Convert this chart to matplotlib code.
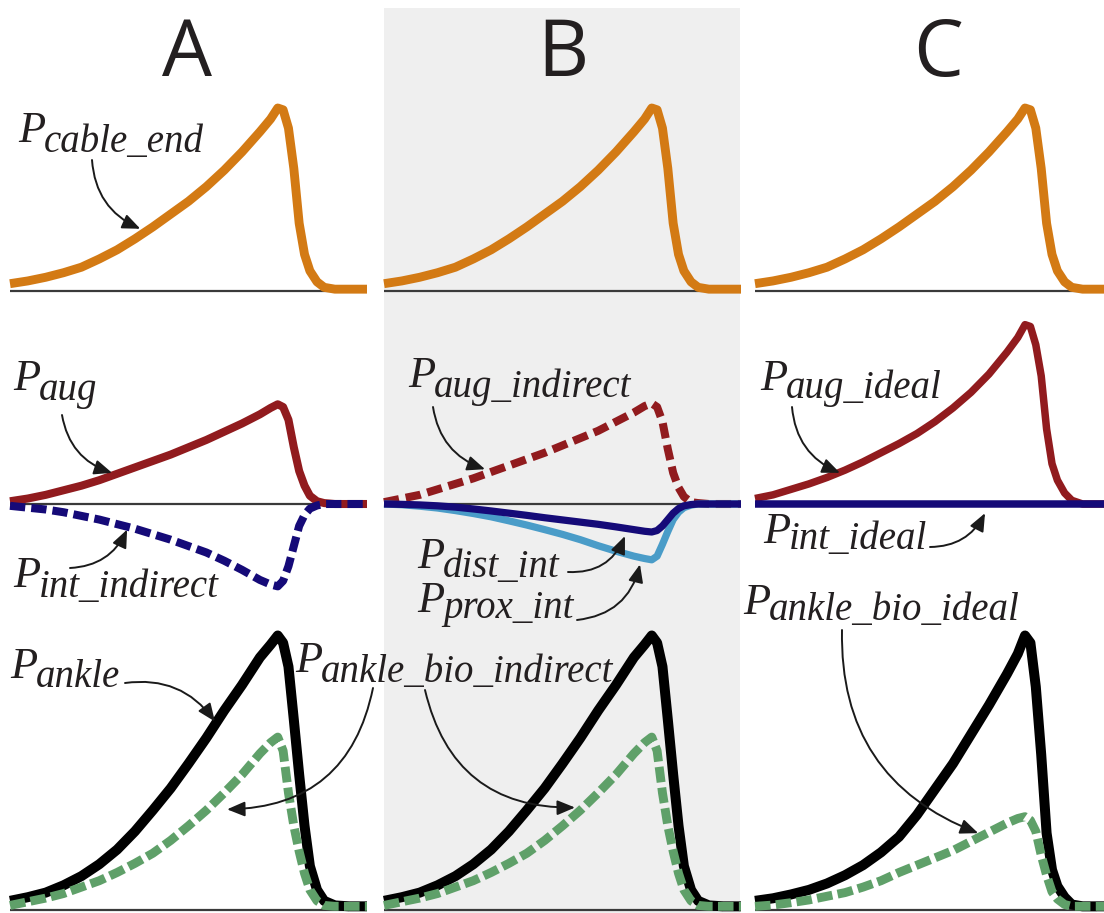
import matplotlib
matplotlib.use("Agg")
import matplotlib.pyplot as plt
from matplotlib.patches import Rectangle

# ---------------- data (time in % of push-off window, power in normalized units) -------------
t = [0, 5, 10, 15, 20, 25, 30, 35, 40, 45, 50, 55, 60, 65, 70, 73, 75, 76.5, 78, 79.5,
     81, 82.5, 84, 86, 88, 91, 95, 100]

cable_end = [0.04, 0.055, 0.075, 0.10, 0.13, 0.175, 0.225, 0.285, 0.35, 0.42, 0.49, 0.57, 0.66,
             0.76, 0.87, 0.94, 1.0, 0.99, 0.89, 0.67, 0.37, 0.20, 0.11, 0.05, 0.02, 0.01, 0.01, 0.01]

aug = [0.015, 0.03, 0.05, 0.075, 0.10, 0.13, 0.165, 0.20, 0.235, 0.27, 0.31, 0.35, 0.395,
       0.44, 0.49, 0.525, 0.545, 0.53, 0.46, 0.31, 0.18, 0.10, 0.045, 0.015, 0.005, 0, 0, 0]
int_indirect = [-0.01, -0.02, -0.03, -0.045, -0.065, -0.085, -0.11, -0.135, -0.165, -0.195,
                -0.23, -0.265, -0.31, -0.36, -0.415, -0.44, -0.45, -0.42, -0.34, -0.23,
                -0.12, -0.06, -0.025, -0.008, 0, 0, 0, 0]

aug_indirect = [0.01, 0.03, 0.05, 0.08, 0.11, 0.14, 0.175, 0.21, 0.245, 0.28, 0.32, 0.36, 0.40,
                0.45, 0.50, 0.535, 0.55, 0.53, 0.45, 0.30, 0.17, 0.09, 0.04, 0.01, 0.005, 0, 0, 0]
dist_int = [0, -0.002, -0.005, -0.01, -0.017, -0.027, -0.038, -0.05, -0.062, -0.075, -0.087,
            -0.099, -0.111, -0.125, -0.14, -0.149, -0.153, -0.145, -0.12, -0.085, -0.05,
            -0.025, -0.01, -0.003, 0, 0, 0, 0]
prox_int = [0, -0.004, -0.012, -0.022, -0.036, -0.052, -0.07, -0.092, -0.115, -0.14, -0.166,
            -0.195, -0.228, -0.258, -0.285, -0.298, -0.305, -0.285, -0.22, -0.15, -0.085,
            -0.045, -0.02, -0.006, 0, 0, 0, 0]

aug_ideal = [0.03, 0.05, 0.08, 0.11, 0.145, 0.185, 0.23, 0.28, 0.33, 0.385, 0.45, 0.525, 0.61,
             0.71, 0.83, 0.91, 0.98, 0.97, 0.87, 0.70, 0.41, 0.22, 0.13, 0.06, 0.02, 0, 0, 0]
int_ideal = [0] * 28

ankle = [0.05, 0.07, 0.095, 0.135, 0.185, 0.25, 0.33, 0.43, 0.545, 0.665, 0.80, 0.94, 1.09,
         1.23, 1.38, 1.45, 1.50, 1.46, 1.33, 1.04, 0.74, 0.46, 0.24, 0.11, 0.05, 0.025, 0.02, 0.02]
ankle_bio_indirect = [0.025, 0.045, 0.065, 0.09, 0.125, 0.16, 0.205, 0.255, 0.31, 0.38, 0.46,
                      0.545, 0.64, 0.74, 0.855, 0.915, 0.945, 0.87, 0.64, 0.46, 0.32, 0.20,
                      0.11, 0.05, 0.025, 0.02, 0.02, 0.02]

ankle_C = [0.05, 0.064, 0.085, 0.11, 0.145, 0.19, 0.245, 0.315, 0.40, 0.52, 0.66, 0.80, 0.96,
           1.12, 1.29, 1.40, 1.50, 1.46, 1.22, 0.85, 0.42, 0.22, 0.13, 0.07, 0.03, 0.02, 0.02, 0.02]
ankle_bio_ideal = [0.02, 0.027, 0.04, 0.055, 0.075, 0.095, 0.125, 0.16, 0.205, 0.245, 0.285,
                   0.325, 0.375, 0.425, 0.475, 0.50, 0.51, 0.49, 0.43, 0.30, 0.19, 0.10, 0.06,
                   0.03, 0.02, 0.02, 0.02, 0.02]

column_letters = ["A", "B", "C"]

# ---------------- style ----------------
ORANGE = "#D37A14"
RED = "#911B1E"
NAVY = "#150A78"
LBLUE = "#4A9CC8"
GREEN = "#5FA069"
BLACK = "#000000"
TXT = "#231F20"
GRAY_BG = "#EFEFEF"

W, H = 1104, 913
fig = plt.figure(figsize=(W / 100, H / 100), dpi=100)
fig.patch.set_facecolor("white")

SCALE = 183.0  # pixels per unit
col_x0 = [10, 384, 755]
col_ppt = [3.57, 3.57, 3.6]
rows = [  # baseline (top-down px), px below, px above
    (291, 12, 200),
    (504, 100, 200),
    (910, 3, 300),
]

fig.patches.append(Rectangle((384 / W, 0), 356 / W, (H - 8) / H,
                             transform=fig.transFigure, facecolor=GRAY_BG,
                             edgecolor="none", zorder=-5))

axes = {}
for c in range(3):
    for r in range(3):
        base, below, above = rows[r]
        left = col_x0[c] / W
        width = 100 * col_ppt[c] / W
        bottom = (H - (base + below)) / H
        height = (below + above) / H
        ax = fig.add_axes([left, bottom, width, height])
        ax.set_xlim(0, 100)
        ax.set_ylim(-below / SCALE, above / SCALE)
        ax.axis("off")
        ax.patch.set_alpha(0)
        ax.plot([0, 95], [0, 0], color="#3a3a3a", lw=1.6, clip_on=False, zorder=1,
                solid_capstyle="butt")
        axes[(r, c)] = ax


def line(ax, y, color, lw, dashes=None, z=2):
    kw = dict(color=color, lw=lw, clip_on=False, zorder=z,
              solid_joinstyle="round", solid_capstyle="butt")
    if dashes is not None:
        kw["linestyle"] = (0, dashes)
        kw["dash_capstyle"] = "butt"
        kw["dash_joinstyle"] = "round"
    ax.plot(t, y, **kw)


# row 1
for c in range(3):
    line(axes[(0, c)], cable_end, ORANGE, 6.4)

# row 2
line(axes[(1, 0)], aug, RED, 5.8, z=2)
line(axes[(1, 0)], int_indirect, NAVY, 5.8, dashes=(1.9, 0.75), z=3)
line(axes[(1, 1)], aug_indirect, RED, 5.8, dashes=(1.9, 0.85), z=2)
line(axes[(1, 1)], prox_int, LBLUE, 5.2, z=3)
line(axes[(1, 1)], dist_int, NAVY, 5.2, z=4)
line(axes[(1, 2)], aug_ideal, RED, 5.4, z=2)
line(axes[(1, 2)], int_ideal, NAVY, 5.4, z=3)

# row 3
for c in (0, 1):
    line(axes[(2, c)], ankle, BLACK, 7.2, z=2)
    line(axes[(2, c)], ankle_bio_indirect, GREEN, 6.4, dashes=(1.75, 0.6), z=3)
line(axes[(2, 2)], ankle_C, BLACK, 7.2, z=2)
line(axes[(2, 2)], ankle_bio_ideal, GREEN, 6.4, dashes=(1.75, 0.6), z=3)

# ---------------- column letters ----------------
for x, s in zip([187, 563, 938], column_letters):
    fig.text(x / W, 1 - 76 / H, s, ha="center", va="baseline", fontsize=57,
             family="Open Sans", color=TXT)

# ---------------- labels ----------------
renderer = fig.canvas.get_renderer()


def plabel(x, y, sub, dy=10):
    tP = fig.text(x / W, 1 - y / H, "P", fontsize=32, family="Liberation Serif",
                  style="italic", color=TXT, va="baseline", zorder=6)
    bb = tP.get_window_extent(renderer=renderer)
    fig.text((bb.x1 - 1) / W, 1 - (y + dy) / H, sub, fontsize=28,
             family="Liberation Serif", style="italic", color=TXT,
             va="baseline", zorder=6)


plabel(18, 142, "cable_end")
plabel(13, 390, "aug")
plabel(13, 587, "int_indirect")
plabel(408, 387, "aug_indirect")
plabel(417, 568, "dist_int", dy=9)
plabel(417, 612, "prox_int", dy=6)
plabel(760, 390, "aug_ideal", dy=8)
plabel(763, 543, "int_ideal", dy=6)
plabel(743, 614, "ankle_bio_ideal", dy=6)
plabel(10, 678, "ankle", dy=9)
plabel(295, 672, "ankle_bio_indirect")

# ---------------- arrows ----------------


def arrow(ax, tip, tail_px, rad):
    ax.annotate("", xy=tip, xycoords="data",
                xytext=(tail_px[0], H - tail_px[1]), textcoords="figure pixels",
                annotation_clip=False, zorder=7,
                arrowprops=dict(arrowstyle="-|>,head_length=0.6,head_width=0.25",
                                mutation_scale=18, lw=1.4, color="#1a1a1a",
                                shrinkA=0, shrinkB=0,
                                connectionstyle=f"arc3,rad={rad}"))


arrow(axes[(0, 0)], (36.5, 0.34), (92, 160), 0.3)
arrow(axes[(1, 0)], (28.6, 0.17), (62, 415), 0.3)
arrow(axes[(1, 0)], (32.8, -0.14), (70, 568), 0.3)
arrow(axes[(1, 1)], (28.3, 0.19), (433, 407), 0.3)
arrow(axes[(1, 1)], (67.5, -0.175), (568, 572), 0.35)
arrow(axes[(1, 1)], (71.7, -0.33), (577, 620), 0.35)
arrow(axes[(1, 2)], (23.6, 0.17), (792, 407), 0.3)
arrow(axes[(1, 2)], (63.9, -0.05), (930, 547), 0.3)
arrow(axes[(2, 2)], (62.0, 0.42), (842, 630), 0.35)
arrow(axes[(2, 0)], (57.4, 1.03), (125, 683), -0.3)
arrow(axes[(2, 0)], (60.8, 0.55), (373, 688), -0.4)
arrow(axes[(2, 1)], (53.5, 0.56), (425, 690), 0.4)

fig.savefig("out.png", dpi=100, facecolor="white")
